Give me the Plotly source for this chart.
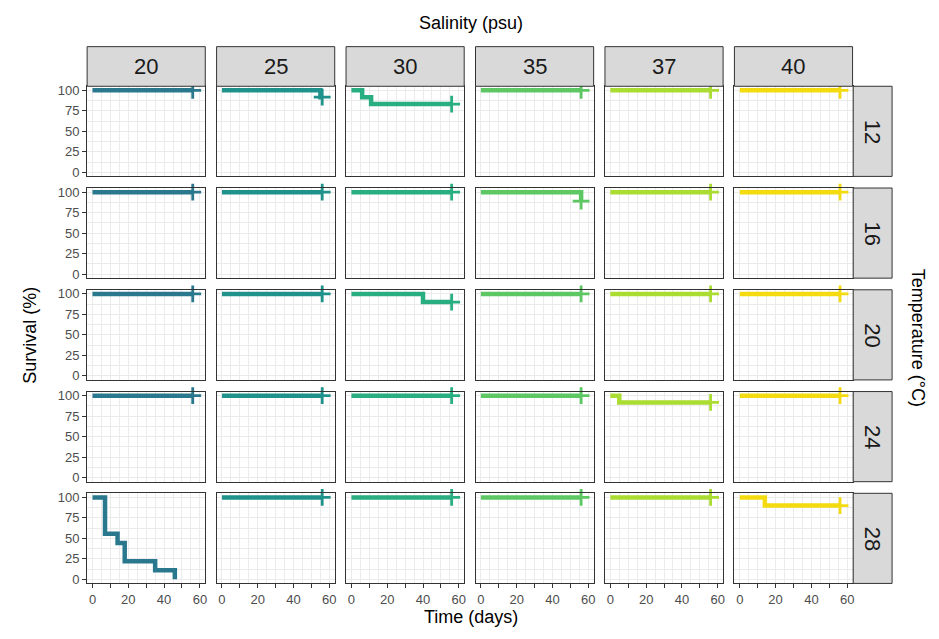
import plotly.graph_objects as go

# ---------------- data ----------------
salinity = ["20", "25", "30", "35", "37", "40"]
temperature = ["12", "16", "20", "24", "28"]
colors = ["#2A788E", "#20928C", "#28AE80", "#5DC863", "#ABDC32", "#F3DB10"]

x_ticks = [0, 10, 20, 30, 40, 50, 60]
x_ticktext = ["0", "", "20", "", "40", "", "60"]
y_ticks = [0, 25, 50, 75, 100]
y_ticktext = ["0", "25", "50", "75", "100"]

# Kaplan-Meier steps that differ from 100 % survival (time in days, survival %)
t_12_25 = [0, 55, 56]
s_12_25 = [100, 91.7, 91.7]
t_12_30 = [0, 6, 11, 56]
s_12_30 = [100, 91.7, 83.3, 83.3]
t_16_35 = [0, 56]
s_16_35 = [100, 88.9]
t_20_30 = [0, 40, 56]
s_20_30 = [100, 90.0, 90.0]
t_24_37 = [0, 5, 56]
s_24_37 = [100, 91.7, 91.7]
t_28_20 = [0, 7, 14, 18, 35, 46]
s_28_20 = [100, 55.6, 44.4, 22.2, 11.1, 0]
t_28_40 = [0, 14, 56]
s_28_40 = [100, 90.0, 90.0]

# flat curves (no deaths), censored at end of observation
t_flat = [0, 56]
s_flat = [100, 100]

special = {
    ("12", "25"): (t_12_25, s_12_25, True),
    ("12", "30"): (t_12_30, s_12_30, True),
    ("16", "35"): (t_16_35, s_16_35, True),
    ("20", "30"): (t_20_30, s_20_30, True),
    ("24", "37"): (t_24_37, s_24_37, True),
    ("28", "20"): (t_28_20, s_28_20, False),
    ("28", "40"): (t_28_40, s_28_40, True),
}

# ---------------- layout geometry (reference pixels) ----------------
WIN_W, WIN_H = 939, 639
OFF = 8  # default page body margin
W, H = WIN_W - 2 * OFF, WIN_H - 2 * OFF
col_left0, col_step, panel_w = 87.3, 129.74, 118.4
row_top0, row_step, panel_h = 84.0, 102.75, 91.0
strip_top = 44.0
rstrip_l, rstrip_r = 855.0, 894.0

def px(x):
    return (x - OFF) / W

def py(y):
    return 1 - (y - OFF) / H

fig = go.Figure()
layout = {}
shapes = []
annotations = []

font_family = "Liberation Sans, Arial, sans-serif"
grid_col = "#EBEBEB"

idx = 0
for r, temp in enumerate(temperature):
    for c, sal in enumerate(salinity):
        idx += 1
        xa = "xaxis" if idx == 1 else f"xaxis{idx}"
        ya = "yaxis" if idx == 1 else f"yaxis{idx}"
        xr = "x" if idx == 1 else f"x{idx}"
        yr = "y" if idx == 1 else f"y{idx}"
        L = col_left0 + c * col_step
        T = row_top0 + r * row_step
        bottom = r == len(temperature) - 1
        left = c == 0
        layout[xa] = dict(
            domain=[px(L), px(L + panel_w)], anchor=yr, range=[-3, 63],
            tickmode="array", tickvals=x_ticks, ticktext=x_ticktext,
            showticklabels=bottom, ticks="outside" if bottom else "",
            ticklen=4, tickwidth=1, tickcolor="#333333",
            tickfont=dict(size=13, color="#4D4D4D", family=font_family),
            showgrid=True, gridcolor=grid_col, gridwidth=1.1,
            minor=dict(tickvals=[5, 15, 25, 35, 45, 55], showgrid=True,
                       gridcolor=grid_col, gridwidth=0.6),
            showline=True, linecolor="#333333", linewidth=1, mirror=True,
            zeroline=False, fixedrange=True,
        )
        layout[ya] = dict(
            domain=[py(T + panel_h), py(T)], anchor=xr, range=[-5, 105],
            tickmode="array", tickvals=y_ticks, ticktext=y_ticktext,
            showticklabels=left, ticks="outside" if left else "",
            ticklen=4, tickwidth=1, tickcolor="#333333",
            tickfont=dict(size=13, color="#4D4D4D", family=font_family),
            showgrid=True, gridcolor=grid_col, gridwidth=1.1,
            minor=dict(tickvals=[12.5, 37.5, 62.5, 87.5], showgrid=True,
                       gridcolor=grid_col, gridwidth=0.6),
            showline=True, linecolor="#333333", linewidth=1, mirror=True,
            zeroline=False, fixedrange=True,
        )
        t, s, cens = special.get((temp, sal), (t_flat, s_flat, True))
        fig.add_trace(go.Scatter(
            x=t, y=s, mode="lines", line=dict(color=colors[c], width=4.5, shape="hv"),
            xaxis=xr, yaxis=yr, showlegend=False, hoverinfo="skip",
        ))
        if cens:
            fig.add_trace(go.Scatter(
                x=[t[-1]], y=[s[-1]], mode="markers",
                marker=dict(symbol="cross-thin", size=12,
                            line=dict(color=colors[c], width=2.8)),
                xaxis=xr, yaxis=yr, showlegend=False, hoverinfo="skip",
                cliponaxis=False,
            ))

# top strips
for c, sal in enumerate(salinity):
    L = col_left0 + c * col_step
    shapes.append(dict(type="rect", xref="paper", yref="paper",
                       x0=px(L), x1=px(L + panel_w), y0=py(row_top0), y1=py(strip_top),
                       fillcolor="#D9D9D9", line=dict(color="#333333", width=1), layer="above"))
    annotations.append(dict(xref="paper", yref="paper", x=px(L + panel_w / 2),
                            y=py((row_top0 + strip_top) / 2), text=sal, showarrow=False,
                            font=dict(size=22, color="#1A1A1A", family=font_family),
                            xanchor="center", yanchor="middle"))
# right strips
for r, temp in enumerate(temperature):
    T = row_top0 + r * row_step
    shapes.append(dict(type="rect", xref="paper", yref="paper",
                       x0=px(rstrip_l), x1=px(rstrip_r), y0=py(T + panel_h), y1=py(T),
                       fillcolor="#D9D9D9", line=dict(color="#333333", width=1), layer="above"))
    annotations.append(dict(xref="paper", yref="paper", x=px((rstrip_l + rstrip_r) / 2),
                            y=py(T + panel_h / 2), text=temp, showarrow=False, textangle=90,
                            font=dict(size=22, color="#1A1A1A", family=font_family),
                            xanchor="center", yanchor="middle"))

# axis titles
title_font = dict(size=18, color="#000000", family=font_family)
annotations += [
    dict(xref="paper", yref="paper", x=px(472), y=py(20), text="Salinity (psu)",
         showarrow=False, font=title_font, xanchor="center", yanchor="middle"),
    dict(xref="paper", yref="paper", x=px(472), y=py(620), text="Time (days)",
         showarrow=False, font=title_font, xanchor="center", yanchor="middle"),
    dict(xref="paper", yref="paper", x=px(30), y=py(335), text="Survival (%)",
         showarrow=False, font=title_font, textangle=-90, xanchor="center", yanchor="middle"),
    dict(xref="paper", yref="paper", x=px(920), y=py(338), text="Temperature (°C)",
         showarrow=False, font=title_font, textangle=90, xanchor="center", yanchor="middle"),
]

fig.update_layout(
    width=W, height=H, margin=dict(l=0, r=0, t=0, b=0),
    paper_bgcolor="white", plot_bgcolor="white",
    shapes=shapes, annotations=annotations, showlegend=False,
    font=dict(family=font_family),
    **layout,
)

fig.write_html("out.html")
